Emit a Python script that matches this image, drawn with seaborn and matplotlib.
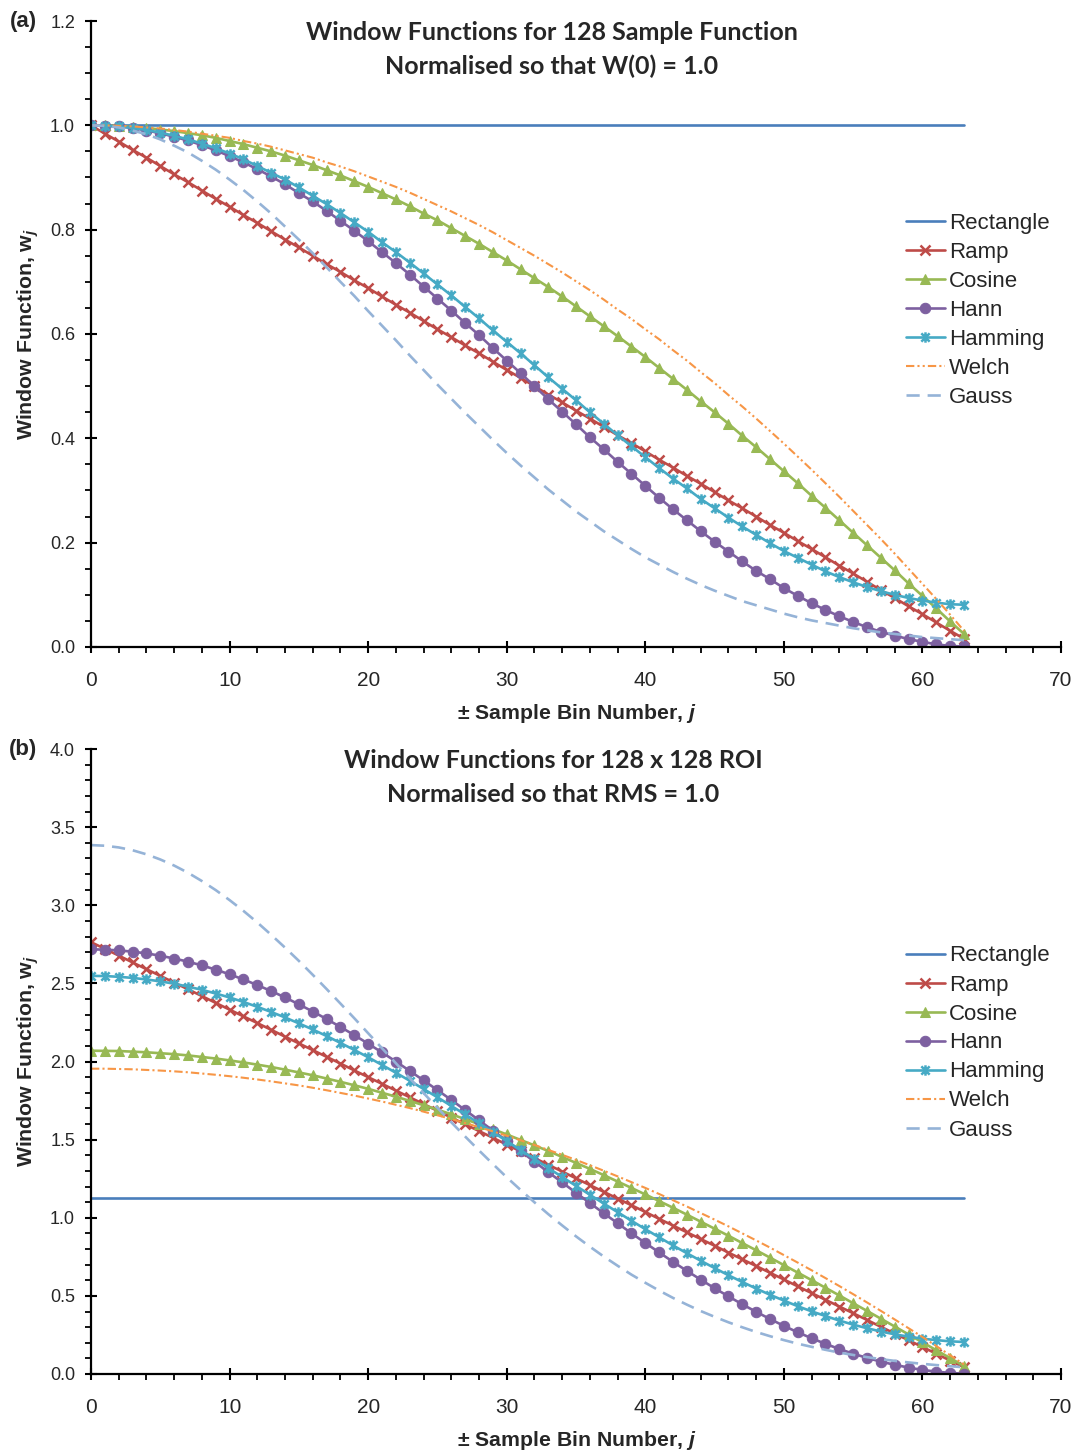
import numpy as np
import matplotlib
matplotlib.use('Agg')
import matplotlib.pyplot as plt
from matplotlib.path import Path
from matplotlib.ticker import MultipleLocator, FormatStrFormatter
import seaborn as sns

sns.set_style('ticks')
plt.rcParams['font.family'] = ['Liberation Sans', 'DejaVu Sans']
plt.rcParams['mathtext.fontset'] = 'custom'
plt.rcParams['mathtext.rm'] = 'Liberation Sans:bold'
plt.rcParams['mathtext.it'] = 'Liberation Sans:bold:italic'
plt.rcParams['mathtext.bf'] = 'Liberation Sans:bold'

# sample bin number j
bins = np.arange(64)

# ---- panel (a): normalised so that W(0) = 1.0 ----
rect_a = [1.0] * 64
ramp_a = [1.000, 0.984, 0.969, 0.953, 0.938, 0.922, 0.906, 0.891,
          0.875, 0.859, 0.844, 0.828, 0.813, 0.797, 0.781, 0.766,
          0.750, 0.734, 0.719, 0.703, 0.688, 0.672, 0.656, 0.641,
          0.625, 0.609, 0.594, 0.578, 0.563, 0.547, 0.531, 0.516,
          0.500, 0.484, 0.469, 0.453, 0.438, 0.422, 0.406, 0.391,
          0.375, 0.359, 0.344, 0.328, 0.313, 0.297, 0.281, 0.266,
          0.250, 0.234, 0.219, 0.203, 0.188, 0.172, 0.156, 0.141,
          0.125, 0.109, 0.094, 0.078, 0.063, 0.047, 0.031, 0.016]
cosine_a = [1.000, 1.000, 0.999, 0.997, 0.995, 0.992, 0.989, 0.985,
            0.981, 0.976, 0.970, 0.964, 0.957, 0.950, 0.942, 0.933,
            0.924, 0.914, 0.904, 0.893, 0.882, 0.870, 0.858, 0.845,
            0.831, 0.818, 0.803, 0.788, 0.773, 0.757, 0.741, 0.724,
            0.707, 0.690, 0.672, 0.653, 0.634, 0.615, 0.596, 0.576,
            0.556, 0.535, 0.514, 0.493, 0.471, 0.450, 0.428, 0.405,
            0.383, 0.360, 0.337, 0.314, 0.290, 0.267, 0.243, 0.219,
            0.195, 0.171, 0.147, 0.122, 0.098, 0.074, 0.049, 0.025]
hann_a = [1.000, 0.999, 0.998, 0.995, 0.990, 0.985, 0.978, 0.971,
          0.962, 0.952, 0.941, 0.929, 0.916, 0.902, 0.887, 0.870,
          0.854, 0.836, 0.817, 0.798, 0.778, 0.757, 0.736, 0.714,
          0.691, 0.668, 0.645, 0.621, 0.598, 0.573, 0.549, 0.525,
          0.500, 0.475, 0.451, 0.427, 0.402, 0.379, 0.355, 0.332,
          0.309, 0.286, 0.264, 0.243, 0.222, 0.202, 0.183, 0.164,
          0.146, 0.130, 0.113, 0.098, 0.084, 0.071, 0.059, 0.048,
          0.038, 0.029, 0.022, 0.015, 0.010, 0.005, 0.002, 0.001]
hamming_a = [1.000, 0.999, 0.998, 0.995, 0.991, 0.986, 0.980, 0.973,
             0.965, 0.956, 0.946, 0.935, 0.922, 0.909, 0.896, 0.881,
             0.865, 0.849, 0.832, 0.814, 0.796, 0.776, 0.757, 0.737,
             0.716, 0.695, 0.674, 0.652, 0.630, 0.607, 0.585, 0.563,
             0.540, 0.517, 0.495, 0.473, 0.450, 0.428, 0.406, 0.385,
             0.364, 0.343, 0.323, 0.304, 0.284, 0.266, 0.248, 0.231,
             0.215, 0.199, 0.184, 0.171, 0.158, 0.145, 0.134, 0.124,
             0.115, 0.107, 0.100, 0.094, 0.089, 0.085, 0.082, 0.081]
welch_a = [1.000, 1.000, 0.999, 0.998, 0.996, 0.994, 0.991, 0.988,
           0.984, 0.980, 0.976, 0.970, 0.965, 0.959, 0.952, 0.945,
           0.938, 0.929, 0.921, 0.912, 0.902, 0.892, 0.882, 0.871,
           0.859, 0.847, 0.835, 0.822, 0.809, 0.795, 0.780, 0.765,
           0.750, 0.734, 0.718, 0.701, 0.684, 0.666, 0.647, 0.629,
           0.609, 0.590, 0.569, 0.549, 0.527, 0.506, 0.483, 0.461,
           0.438, 0.414, 0.390, 0.365, 0.340, 0.314, 0.288, 0.261,
           0.234, 0.207, 0.179, 0.150, 0.121, 0.092, 0.062, 0.031]
gauss_a = [1.000, 0.999, 0.996, 0.990, 0.983, 0.973, 0.961, 0.948,
           0.932, 0.915, 0.896, 0.876, 0.854, 0.831, 0.806, 0.781,
           0.755, 0.728, 0.700, 0.673, 0.644, 0.616, 0.588, 0.559,
           0.531, 0.503, 0.476, 0.449, 0.423, 0.397, 0.372, 0.348,
           0.325, 0.302, 0.281, 0.260, 0.241, 0.222, 0.205, 0.188,
           0.172, 0.158, 0.144, 0.131, 0.119, 0.108, 0.098, 0.088,
           0.080, 0.072, 0.064, 0.057, 0.051, 0.046, 0.041, 0.036,
           0.032, 0.028, 0.025, 0.022, 0.019, 0.017, 0.015, 0.013]

# ---- panel (b): 128 x 128 ROI, normalised so that RMS = 1.0 ----
rect_b = [1.128] * 64
ramp_b = [2.764, 2.721, 2.678, 2.634, 2.591, 2.548, 2.505, 2.462,
          2.419, 2.375, 2.332, 2.289, 2.246, 2.203, 2.159, 2.116,
          2.073, 2.030, 1.987, 1.943, 1.900, 1.857, 1.814, 1.771,
          1.728, 1.684, 1.641, 1.598, 1.555, 1.512, 1.468, 1.425,
          1.382, 1.339, 1.296, 1.252, 1.209, 1.166, 1.123, 1.080,
          1.037, 0.993, 0.950, 0.907, 0.864, 0.821, 0.777, 0.734,
          0.691, 0.648, 0.605, 0.561, 0.518, 0.475, 0.432, 0.389,
          0.346, 0.302, 0.259, 0.216, 0.173, 0.130, 0.086, 0.043]
cosine_b = [2.069, 2.068, 2.067, 2.063, 2.059, 2.053, 2.047, 2.039,
            2.029, 2.019, 2.007, 1.994, 1.980, 1.965, 1.948, 1.930,
            1.912, 1.891, 1.870, 1.848, 1.825, 1.800, 1.775, 1.748,
            1.720, 1.692, 1.662, 1.631, 1.599, 1.567, 1.533, 1.498,
            1.463, 1.427, 1.389, 1.351, 1.313, 1.273, 1.232, 1.191,
            1.149, 1.107, 1.064, 1.020, 0.975, 0.930, 0.885, 0.838,
            0.792, 0.745, 0.697, 0.649, 0.601, 0.552, 0.503, 0.453,
            0.404, 0.354, 0.304, 0.253, 0.203, 0.152, 0.102, 0.051]
hann_b = [2.718, 2.716, 2.711, 2.703, 2.692, 2.677, 2.659, 2.639,
          2.615, 2.588, 2.558, 2.525, 2.489, 2.451, 2.410, 2.366,
          2.320, 2.272, 2.221, 2.169, 2.114, 2.058, 2.000, 1.940,
          1.879, 1.817, 1.754, 1.689, 1.624, 1.558, 1.492, 1.426,
          1.359, 1.292, 1.226, 1.160, 1.094, 1.029, 0.965, 0.901,
          0.839, 0.778, 0.718, 0.660, 0.604, 0.549, 0.497, 0.446,
          0.398, 0.352, 0.308, 0.267, 0.229, 0.193, 0.160, 0.130,
          0.103, 0.079, 0.059, 0.041, 0.026, 0.015, 0.007, 0.002]
hamming_b = [2.548, 2.547, 2.542, 2.535, 2.525, 2.513, 2.498, 2.479,
             2.459, 2.435, 2.410, 2.381, 2.350, 2.317, 2.282, 2.244,
             2.205, 2.163, 2.119, 2.074, 2.027, 1.978, 1.928, 1.877,
             1.824, 1.771, 1.716, 1.661, 1.605, 1.548, 1.491, 1.433,
             1.376, 1.318, 1.261, 1.204, 1.147, 1.091, 1.036, 0.981,
             0.927, 0.875, 0.823, 0.773, 0.725, 0.678, 0.632, 0.589,
             0.547, 0.507, 0.470, 0.434, 0.401, 0.371, 0.342, 0.316,
             0.293, 0.272, 0.254, 0.239, 0.226, 0.217, 0.209, 0.205]
welch_b = [1.954, 1.954, 1.952, 1.950, 1.946, 1.942, 1.937, 1.931,
           1.923, 1.915, 1.906, 1.896, 1.885, 1.873, 1.860, 1.847,
           1.832, 1.816, 1.799, 1.782, 1.763, 1.744, 1.723, 1.702,
           1.679, 1.656, 1.632, 1.606, 1.580, 1.553, 1.525, 1.496,
           1.466, 1.434, 1.403, 1.370, 1.336, 1.301, 1.265, 1.228,
           1.191, 1.152, 1.112, 1.072, 1.030, 0.988, 0.945, 0.900,
           0.855, 0.809, 0.761, 0.713, 0.664, 0.614, 0.563, 0.511,
           0.458, 0.404, 0.349, 0.293, 0.237, 0.179, 0.120, 0.061]
gauss_b = [3.385, 3.381, 3.370, 3.352, 3.326, 3.293, 3.254, 3.208,
           3.155, 3.097, 3.033, 2.964, 2.890, 2.811, 2.729, 2.644,
           2.555, 2.464, 2.371, 2.277, 2.181, 2.085, 1.989, 1.893,
           1.798, 1.704, 1.611, 1.520, 1.431, 1.344, 1.259, 1.178,
           1.099, 1.023, 0.951, 0.881, 0.815, 0.752, 0.693, 0.636,
           0.584, 0.534, 0.487, 0.444, 0.403, 0.366, 0.331, 0.299,
           0.269, 0.242, 0.217, 0.194, 0.174, 0.155, 0.137, 0.122,
           0.108, 0.095, 0.084, 0.074, 0.065, 0.057, 0.050, 0.043]

names = ['Rectangle', 'Ramp', 'Cosine', 'Hann', 'Hamming', 'Welch', 'Gauss']
colors = ['#4A7EBB', '#BE4B48', '#98B954', '#7D60A0', '#46AAC5', '#F79646', '#95B3D7']

# Excel style "star": an x with a vertical bar
star = Path([(-1, -1), (1, 1), (-1, 1), (1, -1), (0, -1.25), (0, 1.25)],
            [Path.MOVETO, Path.LINETO, Path.MOVETO, Path.LINETO, Path.MOVETO, Path.LINETO])


def line_styles(welch_dash):
    return [
        dict(linestyle='-'),
        dict(linestyle='-', marker='x', markersize=6.5, markeredgewidth=1.8),
        dict(linestyle='-', marker='^', markersize=7.5),
        dict(linestyle='-', marker='o', markersize=7.5),
        dict(linestyle='-', marker=star, markersize=7.5, markeredgewidth=1.8),
        dict(linestyle=(0, welch_dash), linewidth=1.5),
        dict(linestyle=(0, (5, 3))),
    ]


def draw_panel(ax, series, welch_dash, ymax, ymajor, yminor, legend_top):
    for name, vals, col, st in zip(names, series, colors, line_styles(welch_dash)):
        kw = dict(linewidth=1.9)
        kw.update(st)
        if 'marker' in kw:
            kw['markerfacecolor'] = col
            kw['markeredgecolor'] = col
        sns.lineplot(x=bins, y=vals, ax=ax, color=col, label=name, **kw)

    ax.set_xlim(0, 70)
    ax.set_ylim(0, ymax)
    ax.xaxis.set_major_locator(MultipleLocator(10))
    ax.xaxis.set_minor_locator(MultipleLocator(2))
    ax.yaxis.set_major_locator(MultipleLocator(ymajor))
    ax.yaxis.set_minor_locator(MultipleLocator(yminor))
    ax.yaxis.set_major_formatter(FormatStrFormatter('%.1f'))
    sns.despine(ax=ax)
    for s in ['left', 'bottom']:
        ax.spines[s].set_linewidth(1.6)
        ax.spines[s].set_color('black')
    ax.tick_params(which='major', direction='inout', length=9, width=1.5, color='black')
    ax.tick_params(which='minor', direction='out', length=4, width=1.3, color='black')
    ax.tick_params(axis='x', which='major', labelsize=15, pad=13)
    ax.tick_params(axis='y', which='major', labelsize=13, pad=7)
    ax.set_xlabel('')
    ax.set_ylabel('')
    ax.legend(loc='upper left', bbox_to_anchor=(0.840, legend_top), frameon=False,
              fontsize=16, handlelength=1.75, handletextpad=0.2, labelspacing=0.36,
              borderpad=0, borderaxespad=0)


W, H = 1077, 1454
fig = plt.figure(figsize=(W / 100, H / 100), dpi=100)
ax_a = fig.add_axes([91 / W, (H - 647) / H, 970 / W, 626 / H])
ax_b = fig.add_axes([91 / W, (H - 1374) / H, 970 / W, 625 / H])

draw_panel(ax_a, [rect_a, ramp_a, cosine_a, hann_a, hamming_a, welch_a, gauss_a],
           (4, 1.5, 1, 1.5, 1, 1.5), 1.2, 0.2, 0.05, 0.694)
draw_panel(ax_b, [rect_b, ramp_b, cosine_b, hann_b, hamming_b, welch_b, gauss_b],
           (4, 1.5, 1, 1.5), 4.0, 0.5, 0.1, 0.6856)

title_kw = dict(ha='center', va='center', fontsize=18, fontweight='bold', family=['Lato', 'DejaVu Sans'])
fig.text(552 / W, 1 - 33 / H, 'Window Functions for 128 Sample Function', **title_kw)
fig.text(552 / W, 1 - 66 / H, 'Normalised so that W(0) = 1.0', **title_kw)
fig.text(553 / W, 1 - 761 / H, 'Window Functions for 128 x 128 ROI', **title_kw)
fig.text(553 / W, 1 - 794 / H, 'Normalised so that RMS = 1.0', **title_kw)

lab_kw = dict(ha='center', va='center', fontsize=15.3, fontweight='bold')
fig.text(23 / W, 1 - 22 / H, '(a)', ha='center', va='center', fontsize=16, fontweight='bold')
fig.text(23 / W, 1 - 750 / H, '(b)', ha='center', va='center', fontsize=16, fontweight='bold')
fig.text(28 / W, 1 - 334 / H, 'Window Function, w$_j$', rotation=90, **lab_kw)
fig.text(28 / W, 1 - 1061 / H, 'Window Function, w$_j$', rotation=90, **lab_kw)
fig.text(577 / W, 1 - 713 / H, '\u00b1 Sample Bin Number, $j$', **lab_kw)
fig.text(577 / W, 1 - 1441 / H, '\u00b1 Sample Bin Number, $j$', **lab_kw)

fig.savefig('out.png', dpi=100)
